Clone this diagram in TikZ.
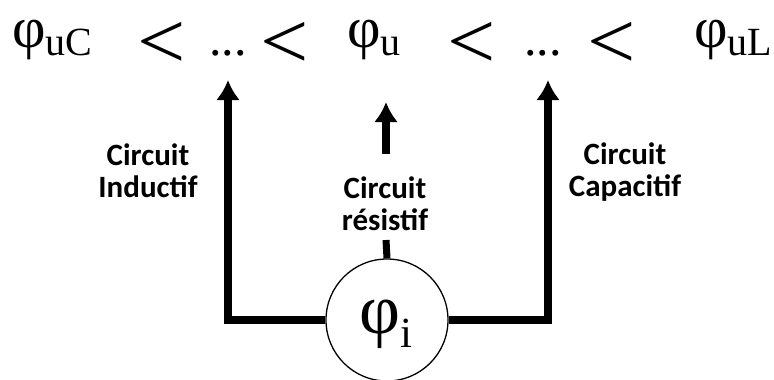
\documentclass[tikz,border=0pt]{standalone}
\usepackage{fontspec}
\setmainfont{Liberation Serif}
\newfontfamily\lblfont{Carlito}
\usetikzlibrary{arrows.meta}

\newcommand{\phase}[1]{{\fontsize{58}{58}\selectfont φ}\raisebox{-8pt}{\fontsize{40}{40}\selectfont #1}}
\newcommand{\phasebig}[1]{{\fontsize{71}{71}\selectfont φ}\raisebox{-14pt}{\fontsize{43}{43}\selectfont #1}}
\newcommand{\lessthan}{\scalebox{1.3}[1.22]{<}}
\tikzset{
  lt/.style={anchor=base,inner sep=0pt,font=\fontsize{66}{66}\selectfont},
  dots/.style={anchor=base,inner sep=0pt,font=\fontsize{50}{50}\selectfont},
  ph/.style={anchor=base west,inner sep=0pt},
  lbl/.style={align=center,font=\lblfont\bfseries\fontsize{31}{32}\selectfont},
  bigarrow/.style={line width=8.5pt,-{Latex[length=20pt,width=24pt]}},
}

\begin{document}
\begin{tikzpicture}[x=1pt,y=-1pt]
  \useasboundingbox (0,0) rectangle (774,380);

  % top line of phases
  \node[ph] (uC) at (12,47) {\phase{uC}};
  \node[lt] (lt1) at (162,68) {\lessthan};
  \node[dots] (d1) at (228,55) {...};
  \node[lt] (lt2) at (285,68) {\lessthan};
  \node[ph] (u) at (347,47) {\phase{u}};
  \node[lt] (lt3) at (472,68) {\lessthan};
  \node[dots] (d2) at (543,55) {...};
  \node[lt] (lt4) at (612,68) {\lessthan};
  \node[ph] (uL) at (694,47) {\phase{uL}};

  % current phase
  \node[draw,circle,line width=1.3pt,minimum size=122pt,inner sep=0pt] (i) at (387,320) {};
  \node[ph] (phi) at (359,333) {\phasebig{i}};

  \coordinate (tipL) at (228,80);
  \coordinate (tipR) at (548,80);
  \coordinate (tipM) at (386,102);
  \coordinate (baseM) at (386,154);
  \coordinate (tick) at (386,240);

  \draw[bigarrow] (i.west) -| (tipL);
  \draw[bigarrow] (i.east) -| (tipR);
  \draw[bigarrow] (baseM) -- (tipM);
  \draw[line width=7pt] (tick) -- (i.north);

  \node[lbl] (ind) at (148,171) {Circuit\\Inductif};
  \node[lbl] (res) at (385,204) {Circuit\\résistif};
  \node[lbl] (cap) at (625,172) {Circuit\\Capacitif};
\end{tikzpicture}
\end{document}
